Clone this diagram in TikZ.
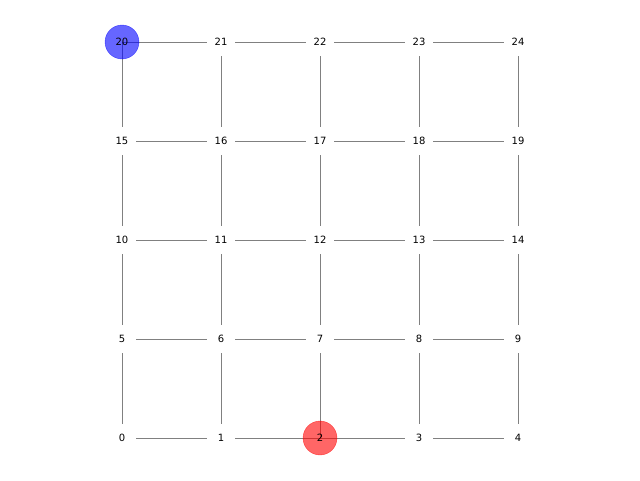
\documentclass[tikz,border=0pt]{standalone}
\usepackage{fontspec}
\setmainfont{DejaVu Sans}
\begin{document}
\begin{tikzpicture}[x=1pt,y=-1pt,
  edge/.style={draw=black!50, line width=1pt},
  gapnode/.style={circle, fill=white, inner sep=0pt, minimum size=28pt},
  lbl/.style={font=\fontsize{10pt}{12pt}\selectfont, inner sep=0pt},
  bluenode/.style={circle, fill=blue, fill opacity=0.6, draw=blue, draw opacity=0.6, minimum size=34pt, inner sep=0pt},
  rednode/.style={circle, fill=red, fill opacity=0.6, draw=red, draw opacity=0.6, minimum size=34pt, inner sep=0pt}]
\useasboundingbox (0,0) rectangle (640,480);
\fill[white] (0,0) rectangle (640,480);
% coordinates
\foreach \i in {0,...,24}{
  \pgfmathtruncatemacro{\c}{mod(\i,5)}
  \pgfmathtruncatemacro{\r}{div(\i,5)}
  \coordinate (n\i) at ({122+99*\c},{438-99*\r});
}
% edges
\foreach \r in {0,...,4}{
  \foreach \c in {0,...,3}{
    \pgfmathtruncatemacro{\a}{5*\r+\c}
    \pgfmathtruncatemacro{\b}{5*\r+\c+1}
    \draw[edge] (n\a) -- (n\b);
  }
}
\foreach \r in {0,...,3}{
  \foreach \c in {0,...,4}{
    \pgfmathtruncatemacro{\a}{5*\r+\c}
    \pgfmathtruncatemacro{\b}{5*\r+\c+5}
    \draw[edge] (n\a) -- (n\b);
  }
}
% gaps at plain nodes
\foreach \i in {0,1,3,4,5,6,7,8,9,10,11,12,13,14,15,16,17,18,19,21,22,23,24}{
  \node[gapnode] (g\i) at (n\i) {};
}
% highlighted nodes
\node[bluenode] (b20) at (n20) {};
\node[rednode] (r2) at (n2) {};
% labels
\foreach \i in {0,...,24}{
  \node[lbl] (l\i) at (n\i) {\i};
}
\end{tikzpicture}
\end{document}
